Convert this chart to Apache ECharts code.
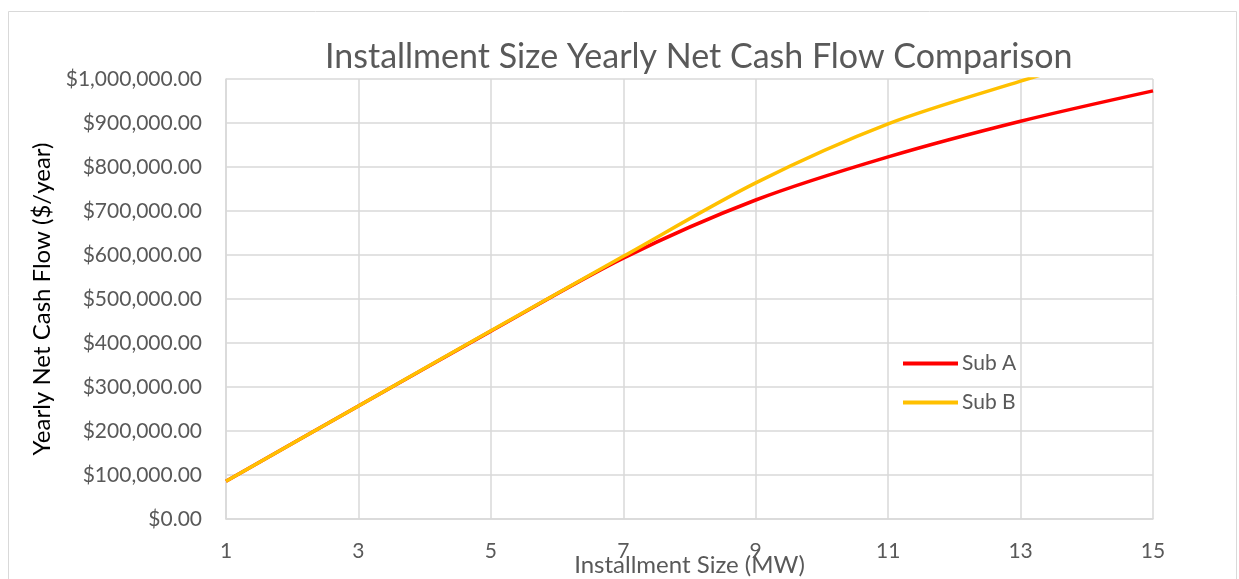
<!DOCTYPE html>
<html lang="en">
<head>
    <meta charset="UTF-8">
    <title>Installment Size Yearly Net Cash Flow Comparison</title>
    <script src="https://cdn.jsdelivr.net/npm/echarts@6/dist/echarts.min.js"></script>
    <style>
        html, body { margin: 0; padding: 0; background: #fff; }
    </style>
</head>
<body>
<div id="main" style="width: 1239px;height:579px;"></div>
<script type="text/javascript">
    // installment size (MW)
    var sizes = [1, 3, 5, 7, 9, 11, 13, 15];
    // yearly net cash flow ($/year)
    var subA = [86000, 257000, 427000, 593000, 725000, 823000, 904000, 973000];
    var subB = [86000, 257000, 428000, 597000, 764000, 898000, 995000, 1085000];
    var seriesNames = ['Sub A', 'Sub B'];

    function pairs(xs, ys) {
        var out = [];
        for (var i = 0; i < xs.length; i++) {
            out.push([xs[i], ys[i]]);
        }
        return out;
    }

    var myChart = echarts.init(document.getElementById('main'));
    var fontName = 'Lato';
    var gray = '#595959';
    var gridColor = '#d9d9d9';

    var option = {
        backgroundColor: '#fff',
        animation: false,
        textStyle: {fontFamily: fontName},
        title: {
            text: 'Installment Size Yearly Net Cash Flow Comparison',
            left: 320,
            top: 35,
            textStyle: {
                fontFamily: fontName,
                fontSize: 34,
                fontWeight: 'normal',
                color: gray
            }
        },
        graphic: [{
            type: 'rect',
            shape: {x: 8.5, y: 11.5, width: 1228, height: 600},
            style: {fill: 'none', stroke: '#d9d9d9', lineWidth: 1},
            silent: true
        }],
        legend: {
            orient: 'vertical',
            left: 898,
            top: 348,
            itemWidth: 55,
            itemHeight: 4,
            itemGap: 18,
            icon: 'rect',
            data: seriesNames,
            textStyle: {fontFamily: fontName, fontSize: 21, color: gray, padding: [0, 0, 0, -1]}
        },
        grid: {
            left: 226,
            right: 86,
            top: 79,
            bottom: 60,
            outerBoundsMode: 'none',
            containLabel: false
        },
        xAxis: {
            type: 'value',
            min: 1,
            max: 15,
            interval: 2,
            name: 'Installment Size (MW)',
            nameLocation: 'middle',
            nameGap: 34,
            nameMoveOverlap: false,
            nameTextStyle: {fontFamily: fontName, fontSize: 24, color: gray},
            axisLine: {lineStyle: {color: gridColor, width: 1.5}},
            axisTick: {show: false},
            axisLabel: {fontFamily: fontName, fontSize: 21, color: gray, margin: 22},
            splitLine: {show: true, lineStyle: {color: gridColor, width: 1.5}}
        },
        yAxis: {
            type: 'value',
            min: 0,
            max: 1000000,
            interval: 100000,
            name: 'Yearly Net Cash Flow ($/year)',
            nameLocation: 'middle',
            nameGap: 172,
            nameRotate: 90,
            nameMoveOverlap: false,
            nameTextStyle: {fontFamily: fontName, fontSize: 24, color: '#000'},
            axisLine: {show: true, lineStyle: {color: gridColor, width: 1.5}},
            axisTick: {show: false},
            axisLabel: {
                fontFamily: fontName,
                fontSize: 21,
                color: gray,
                margin: 24,
                formatter: function (v) {
                    return '$' + v.toLocaleString('en-US', {minimumFractionDigits: 2, maximumFractionDigits: 2});
                }
            },
            splitLine: {show: true, lineStyle: {color: gridColor, width: 1.5}}
        },
        series: [
            {
                name: seriesNames[0],
                type: 'line',
                smooth: 0.3,
                showSymbol: false,
                symbol: 'none',
                clip: true,
                color: '#ff0000',
                lineStyle: {width: 3.5, color: '#ff0000'},
                data: pairs(sizes, subA)
            },
            {
                name: seriesNames[1],
                type: 'line',
                smooth: 0.3,
                showSymbol: false,
                symbol: 'none',
                clip: true,
                color: '#ffc000',
                lineStyle: {width: 3.5, color: '#ffc000'},
                data: pairs(sizes, subB)
            }
        ]
    };
    myChart.setOption(option);
</script>
</body>
</html>
